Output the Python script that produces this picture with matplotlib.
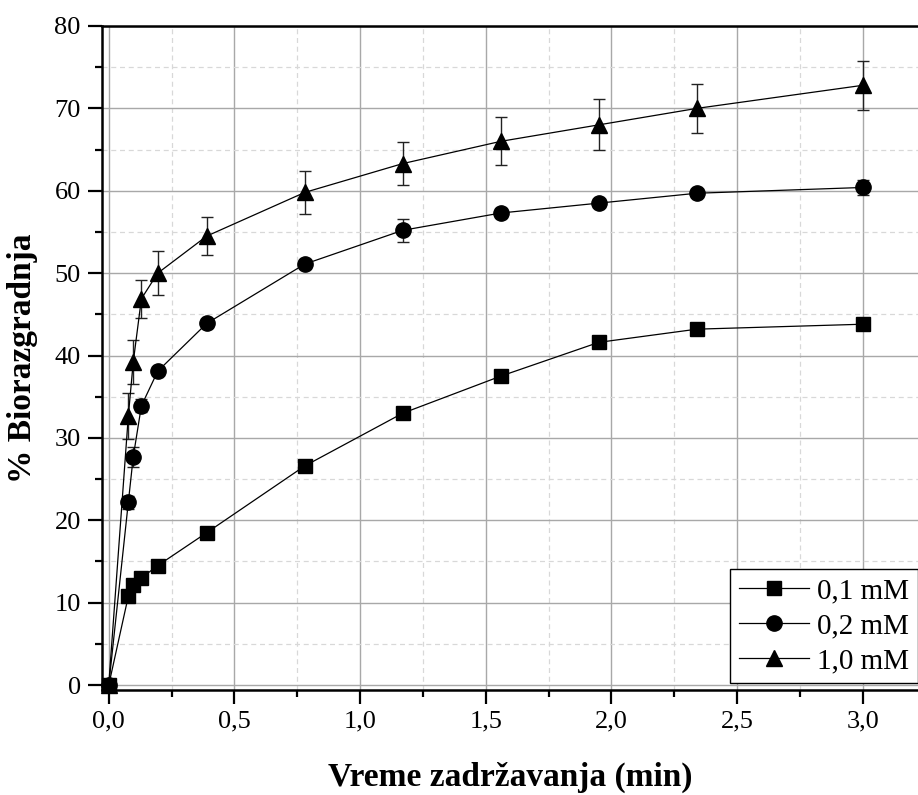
import matplotlib
matplotlib.use("Agg")
import matplotlib.pyplot as plt
from matplotlib.ticker import MultipleLocator, FuncFormatter

plt.rcParams['font.family'] = ['Liberation Serif', 'DejaVu Serif']

# Data (retention time in minutes, % biodegradation)
time_min = [0.0, 0.078, 0.0975, 0.13, 0.195, 0.39, 0.78, 1.17, 1.56, 1.95, 2.34, 3.0]
deg_01mM = [0.0, 10.8, 12.1, 13.0, 14.5, 18.5, 26.6, 33.0, 37.5, 41.6, 43.2, 43.8]
err_01mM = [0, 0, 0, 0, 0, 0, 0, 0, 0, 0, 0, 0]
deg_02mM = [0.0, 22.2, 27.7, 33.9, 38.1, 43.9, 51.1, 55.2, 57.3, 58.5, 59.7, 60.4]
err_02mM = [0, 0.8, 1.2, 0.8, 0.5, 0.5, 0.6, 1.4, 0.6, 0.5, 0.5, 0.9]
deg_10mM = [0.0, 32.7, 39.2, 46.9, 50.0, 54.5, 59.8, 63.3, 66.0, 68.0, 70.0, 72.8]
err_10mM = [0, 2.8, 2.7, 2.3, 2.7, 2.3, 2.6, 2.6, 2.9, 3.1, 3.0, 3.0]

series_labels = ['0,1 mM', '0,2 mM', '1,0 mM']
xlabel = 'Vreme zadržavanja (min)'
ylabel = '% Biorazgradnja'

W, H = 918, 795
fig = plt.figure(figsize=(W / 100, H / 100), dpi=100)
ax = fig.add_axes([101.7 / W, 1 - 690 / H, 1 - 101.7 / W, (690 - 26) / H])

markers = ['s', 'o', '^']
msizes = [10, 11, 12]
for y, e, m, ms, lab in zip([deg_01mM, deg_02mM, deg_10mM],
                             [err_01mM, err_02mM, err_10mM],
                             markers, msizes, series_labels):
    ax.errorbar(time_min, y, yerr=e, fmt='none', ecolor='#222222',
                elinewidth=1.0, capsize=4.5, capthick=1.0, zorder=3)
    ax.plot(time_min, y, color='black', lw=0.9, marker=m, ms=ms,
            mfc='black', mec='black', label=lab, zorder=4, clip_on=False)

ax.set_xlim(-0.028, 3.22)
ax.set_ylim(-0.6, 80)
ax.xaxis.set_major_locator(MultipleLocator(0.5))
ax.xaxis.set_minor_locator(MultipleLocator(0.25))
ax.yaxis.set_major_locator(MultipleLocator(10))
ax.yaxis.set_minor_locator(MultipleLocator(5))
ax.xaxis.set_major_formatter(FuncFormatter(lambda v, p: f'{v:.1f}'.replace('.', ',')))
ax.yaxis.set_major_formatter(FuncFormatter(lambda v, p: f'{v:.0f}'))

ax.grid(which='major', color='#a8a8a8', lw=1.0, ls='-', zorder=0)
ax.grid(which='minor', color='#d8d8d8', lw=0.9, ls=(0, (4, 3)), zorder=0)
ax.set_axisbelow(True)

for s in ['left', 'bottom', 'top']:
    ax.spines[s].set_linewidth(1.8)
ax.spines['right'].set_visible(False)

ax.tick_params(which='major', direction='out', length=10, width=1.6,
               labelsize=19, pad=5, top=False, right=False)
ax.tick_params(which='minor', direction='out', length=5, width=1.6,
               top=False, right=False)

ax.set_xlabel(xlabel, fontsize=24, fontweight='bold')
ax.set_ylabel(ylabel, fontsize=24, fontweight='bold')
ax.xaxis.set_label_coords(0.5, -0.108)
ax.yaxis.set_label_coords(-0.078, 0.5)

leg = ax.legend(loc='lower right', bbox_to_anchor=(1.0, 0.01), fontsize=21,
                frameon=True, fancybox=False, edgecolor='black', framealpha=1,
                handlelength=2.4, handletextpad=0.3, labelspacing=0.3,
                borderpad=0.3, borderaxespad=0.0)
leg.get_frame().set_linewidth(1.0)

fig.savefig('out.png', dpi=100)
